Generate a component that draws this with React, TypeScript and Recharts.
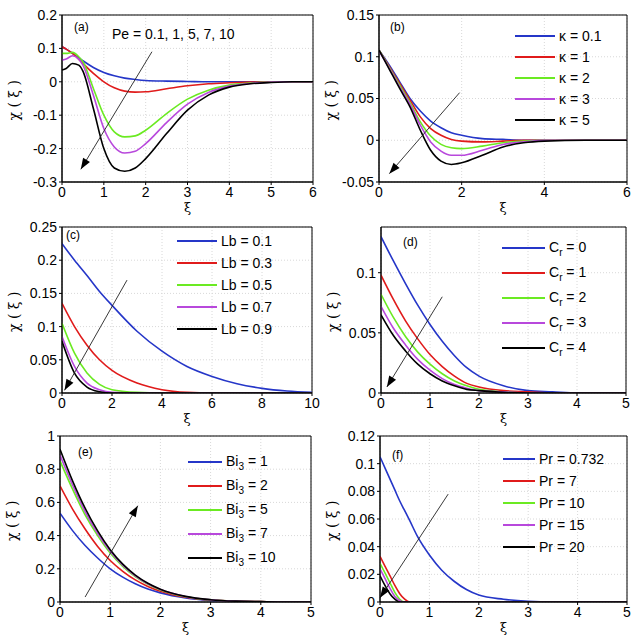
import React from 'react';
import { LineChart, Line, XAxis, YAxis, CartesianGrid, ReferenceLine, ReferenceArea } from 'recharts';

const COLORS = ['#2536c8', '#e01b1b', '#6bea22', '#b848dc', '#000000'];

const xsA = [0, 0.1, 0.25, 0.4, 0.5, 0.75, 1, 1.25, 1.5, 1.75, 2, 2.5, 3, 3.5, 4, 4.5, 5, 5.5, 6];
const aBlue = [0.105, 0.098, 0.085, 0.072, 0.063, 0.043, 0.028, 0.018, 0.011, 0.007, 0.004, 0.002, 0.001, 0, 0, 0, 0, 0, 0];
const aRed = [0.105, 0.098, 0.085, 0.068, 0.055, 0.025, 0, -0.018, -0.028, -0.031, -0.03, -0.021, -0.012, -0.006, -0.003, -0.001, 0, 0, 0];
const aGreen = [0.085, 0.085, 0.088, 0.075, 0.06, -0.02, -0.1, -0.15, -0.165, -0.162, -0.145, -0.095, -0.052, -0.025, -0.01, -0.004, -0.001, 0, 0];
const aMag = [0.065, 0.068, 0.078, 0.068, 0.05, -0.04, -0.14, -0.195, -0.213, -0.208, -0.185, -0.122, -0.067, -0.032, -0.013, -0.005, -0.001, 0, 0];
const aBlack = [0.035, 0.04, 0.055, 0.05, 0.032, -0.08, -0.2, -0.258, -0.268, -0.258, -0.23, -0.155, -0.085, -0.04, -0.016, -0.006, -0.002, 0, 0];

const xsB = [0, 0.25, 0.5, 0.75, 1, 1.25, 1.5, 1.75, 2, 2.5, 3, 3.5, 4, 5, 6];
const bBlue = [0.108, 0.09, 0.07, 0.05, 0.035, 0.023, 0.015, 0.009, 0.006, 0.002, 0.001, 0, 0, 0, 0];
const bRed = [0.108, 0.088, 0.068, 0.048, 0.028, 0.014, 0.006, 0.001, -0.001, -0.002, -0.001, 0, 0, 0, 0];
const bGreen = [0.108, 0.087, 0.066, 0.045, 0.022, 0.005, -0.005, -0.009, -0.01, -0.007, -0.003, -0.001, 0, 0, 0];
const bMag = [0.107, 0.086, 0.064, 0.043, 0.018, -0.002, -0.013, -0.018, -0.018, -0.012, -0.005, -0.002, 0, 0, 0];
const bBlack = [0.108, 0.085, 0.062, 0.04, 0.012, -0.012, -0.025, -0.029, -0.027, -0.018, -0.008, -0.003, -0.001, 0, 0];

const xsC = [0, 0.5, 1, 1.5, 2, 3, 4, 5, 6, 7, 8, 9, 10];
const cBlue = [0.225, 0.2, 0.177, 0.153, 0.132, 0.093, 0.063, 0.04, 0.025, 0.014, 0.007, 0.003, 0.001];
const cRed = [0.135, 0.1, 0.072, 0.05, 0.034, 0.015, 0.005, 0.001, 0, 0, 0, 0, 0];
const cGreen = [0.105, 0.06, 0.03, 0.013, 0.005, 0.001, 0, 0, 0, 0, 0, 0, 0];
const cMag = [0.085, 0.04, 0.015, 0.005, 0.001, 0, 0, 0, 0, 0, 0, 0, 0];
const cBlack = [0.078, 0.03, 0.009, 0.002, 0, 0, 0, 0, 0, 0, 0, 0, 0];

const xsD = [0, 0.25, 0.5, 0.75, 1, 1.25, 1.5, 1.75, 2, 2.5, 3, 3.5, 4, 4.5, 5];
const dBlue = [0.13, 0.11, 0.091, 0.073, 0.057, 0.043, 0.031, 0.021, 0.014, 0.006, 0.002, 0.001, 0, 0, 0];
const dRed = [0.098, 0.078, 0.06, 0.045, 0.032, 0.022, 0.014, 0.008, 0.005, 0.002, 0.001, 0, 0, 0, 0];
const dGreen = [0.082, 0.063, 0.047, 0.034, 0.024, 0.016, 0.01, 0.006, 0.003, 0.001, 0, 0, 0, 0, 0];
const dMag = [0.072, 0.054, 0.04, 0.028, 0.019, 0.012, 0.007, 0.004, 0.002, 0.001, 0, 0, 0, 0, 0];
const dBlack = [0.065, 0.048, 0.035, 0.024, 0.016, 0.01, 0.006, 0.003, 0.002, 0.0005, 0, 0, 0, 0, 0];

const xsE = [0, 0.25, 0.5, 0.75, 1, 1.25, 1.5, 1.75, 2, 2.5, 3, 3.5, 4, 4.5, 5];
const eBlue = [0.535, 0.43, 0.34, 0.265, 0.2, 0.15, 0.11, 0.078, 0.055, 0.025, 0.01, 0.004, 0.001, 0, 0];
const eRed = [0.7, 0.56, 0.44, 0.335, 0.25, 0.185, 0.133, 0.094, 0.065, 0.029, 0.012, 0.005, 0.002, 0, 0];
const eGreen = [0.85, 0.68, 0.525, 0.4, 0.295, 0.215, 0.153, 0.107, 0.073, 0.032, 0.013, 0.005, 0.002, 0, 0];
const eMag = [0.885, 0.705, 0.545, 0.413, 0.305, 0.222, 0.158, 0.11, 0.075, 0.033, 0.013, 0.005, 0.002, 0, 0];
const eBlack = [0.92, 0.73, 0.565, 0.428, 0.315, 0.228, 0.162, 0.113, 0.077, 0.034, 0.014, 0.005, 0.002, 0, 0];

const xsF = [0, 0.1, 0.2, 0.3, 0.4, 0.5, 0.6, 0.75, 1, 1.25, 1.5, 1.75, 2, 2.5, 3, 3.5, 4, 5];
const fBlue = [0.105, 0.097, 0.089, 0.081, 0.073, 0.066, 0.059, 0.048, 0.034, 0.023, 0.015, 0.009, 0.005, 0.002, 0.0005, 0, 0, 0];
const fRed = [0.033, 0.026, 0.019, 0.012, 0.006, 0.002, 0, 0, 0, 0, 0, 0, 0, 0, 0, 0, 0, 0];
const fGreen = [0.028, 0.021, 0.014, 0.007, 0.002, 0, 0, 0, 0, 0, 0, 0, 0, 0, 0, 0, 0, 0];
const fMag = [0.024, 0.017, 0.01, 0.004, 0.001, 0, 0, 0, 0, 0, 0, 0, 0, 0, 0, 0, 0, 0];
const fBlack = [0.019, 0.012, 0.006, 0.002, 0, 0, 0, 0, 0, 0, 0, 0, 0, 0, 0, 0, 0, 0];

const legB = [['κ = 0.1'], ['κ = 1'], ['κ = 2'], ['κ = 3'], ['κ = 5']];
const legC = [['Lb = 0.1'], ['Lb = 0.3'], ['Lb = 0.5'], ['Lb = 0.7'], ['Lb = 0.9']];
const legD = [['C', 'r', ' = 0'], ['C', 'r', ' = 1'], ['C', 'r', ' = 2'], ['C', 'r', ' = 3'], ['C', 'r', ' = 4']];
const legE = [['Bi', '3', ' = 1'], ['Bi', '3', ' = 2'], ['Bi', '3', ' = 5'], ['Bi', '3', ' = 7'], ['Bi', '3', ' = 10']];
const legF = [['Pr = 0.732'], ['Pr = 7'], ['Pr = 10'], ['Pr = 15'], ['Pr = 20']];

const FONT = '"Liberation Sans", Arial, sans-serif';

function rows(xs: number[], series: number[][]) {
  return xs.map((x, i) => {
    const r: any = { x };
    series.forEach((s, k) => (r['s' + k] = s[i]));
    return r;
  });
}

const arrowShape = (p: any) => {
  const { x1, y1, x2, y2 } = p;
  const ang = Math.atan2(y2 - y1, x2 - x1);
  const L = 11, W = 4;
  const bx = x2 - L * Math.cos(ang), by = y2 - L * Math.sin(ang);
  const px = -Math.sin(ang) * W, py = Math.cos(ang) * W;
  return (
    <g>
      <line x1={x1} y1={y1} x2={x2} y2={y2} stroke="#222" strokeWidth={0.9} />
      <polygon points={`${x2},${y2} ${bx + px},${by + py} ${bx - px},${by - py}`} fill="#000" />
    </g>
  );
};

type PanelProps = {
  box: [number, number, number, number];
  plot: [number, number, number, number];
  xs: number[];
  series: number[][];
  xDomain: [number, number];
  xTicks: number[];
  yDomain: [number, number];
  yTicks: number[];
  arrow: [number, number, number, number];
};

function Panel({ box, plot, xs, series, xDomain, xTicks, yDomain, yTicks, arrow }: PanelProps) {
  const [bl, bt, bw, bh] = box;
  const [pl, pt, pr, pb] = plot;
  const yW = 50, xH = 30;
  const margin = { left: pl - bl - yW, top: pt - bt, right: bl + bw - pr, bottom: bt + bh - pb - xH };
  const data = rows(xs, series);
  return (
    <div style={{ position: 'absolute', left: bl, top: bt }}>
      <LineChart width={bw} height={bh} data={data} margin={margin}>
        <CartesianGrid stroke="#d8d8d8" strokeDasharray="1 2" />
        <XAxis
          dataKey="x" type="number" domain={xDomain} ticks={xTicks} height={xH}
          tick={{ fill: '#000', fontSize: 14, fontFamily: FONT }} tickSize={3} tickLine={{ stroke: '#000' }}
          stroke="#000" allowDataOverflow
          label={{ value: 'ξ', position: 'insideBottom', offset: 0, fill: '#000', fontSize: 13, fontFamily: 'DejaVu Serif' }}
        />
        <YAxis
          type="number" domain={yDomain} ticks={yTicks} width={yW}
          tick={{ fill: '#000', fontSize: 14, fontFamily: FONT }} tickSize={3} tickLine={{ stroke: '#000' }}
          stroke="#000" allowDataOverflow
          label={{ value: 'χ ( ξ )', angle: -90, position: 'insideLeft', offset: 2, dy: 22, fill: '#000', fontSize: 14, fontFamily: 'DejaVu Serif' }}
        />
        <ReferenceArea x1={xDomain[0]} x2={xDomain[1]} y1={yDomain[0]} y2={yDomain[1]} fill="none" stroke="#000" strokeWidth={1} ifOverflow="visible" />
        {series.map((_, k) => (
          <Line key={k} dataKey={'s' + k} stroke={COLORS[k]} strokeWidth={1.6} dot={false} type="monotone" isAnimationActive={false} />
        ))}
        <ReferenceLine
          segment={[{ x: arrow[0], y: arrow[1] }, { x: arrow[2], y: arrow[3] }]}
          ifOverflow="visible" shape={arrowShape}
        />
      </LineChart>
    </div>
  );
}

function Legend({ left, top, items, gap, lineW }: { left: number; top: number; items: string[][]; gap: number; lineW: number }) {
  return (
    <div style={{ position: 'absolute', left, top, fontFamily: FONT, fontSize: 14, color: '#000' }}>
      {items.map((it, i) => (
        <div key={i} style={{ position: 'absolute', top: i * gap, left: 0, display: 'flex', alignItems: 'center', whiteSpace: 'nowrap', height: 16, marginTop: -8 }}>
          <span style={{ display: 'inline-block', width: lineW, height: 2, background: COLORS[i], marginRight: 4 }} />
          <span>
            {it[0]}
            {it.length > 1 && <sub style={{ fontSize: 10 }}>{it[1]}</sub>}
            {it.length > 2 && it[2]}
          </span>
        </div>
      ))}
    </div>
  );
}

const lbl = (x: number, y: number, t: string, fs = 12) => (
  <div style={{ position: 'absolute', left: x, top: y, fontFamily: FONT, fontSize: fs, color: '#000', whiteSpace: 'nowrap' }}>{t}</div>
);

export default function App() {
  return (
    <div style={{ position: 'absolute', left: 0, top: 0, width: 639, height: 640, background: '#fff', overflow: 'hidden' }}>
      <Panel box={[320, 418, 319, 222]} plot={[380, 436, 627, 602]} xs={xsF} series={[fBlue, fRed, fGreen, fMag, fBlack]}
        xDomain={[0, 5]} xTicks={[0, 1, 2, 3, 4, 5]} yDomain={[0, 0.12]} yTicks={[0, 0.02, 0.04, 0.06, 0.08, 0.1, 0.12]}
        arrow={[1.38, 0.078, 0.0, 0.003]} />
      <Panel box={[0, 418, 320, 222]} plot={[60, 436, 311, 602]} xs={xsE} series={[eBlue, eRed, eGreen, eMag, eBlack]}
        xDomain={[0, 5]} xTicks={[0, 1, 2, 3, 4, 5]} yDomain={[0, 1]} yTicks={[0, 0.2, 0.4, 0.6, 0.8, 1]}
        arrow={[0.5, 0.03, 1.55, 0.58]} />
      <Panel box={[320, 207, 319, 225]} plot={[381, 227, 626, 393]} xs={xsD} series={[dBlue, dRed, dGreen, dMag, dBlack]}
        xDomain={[0, 5]} xTicks={[0, 1, 2, 3, 4, 5]} yDomain={[0, 0.138]} yTicks={[0, 0.05, 0.1]}
        arrow={[1.25, 0.08, 0.12, 0.005]} />
      <Panel box={[0, 207, 320, 225]} plot={[62, 227, 312, 393]} xs={xsC} series={[cBlue, cRed, cGreen, cMag, cBlack]}
        xDomain={[0, 10]} xTicks={[0, 2, 4, 6, 8, 10]} yDomain={[0, 0.25]} yTicks={[0, 0.05, 0.1, 0.15, 0.2, 0.25]}
        arrow={[2.6, 0.17, 0.1, 0.004]} />
      <Panel box={[320, 0, 319, 216]} plot={[379, 15, 627, 182]} xs={xsB} series={[bBlue, bRed, bGreen, bMag, bBlack]}
        xDomain={[0, 6]} xTicks={[0, 2, 4, 6]} yDomain={[-0.05, 0.15]} yTicks={[-0.05, 0, 0.05, 0.1, 0.15]}
        arrow={[1.95, 0.057, 0.25, -0.04]} />
      <Panel box={[0, 0, 320, 216]} plot={[62, 15, 313, 182]} xs={xsA} series={[aBlue, aRed, aGreen, aMag, aBlack]}
        xDomain={[0, 6]} xTicks={[0, 1, 2, 3, 4, 5, 6]} yDomain={[-0.3, 0.2]} yTicks={[-0.3, -0.2, -0.1, 0, 0.1, 0.2]}
        arrow={[2.15, 0.09, 0.45, -0.262]} />

      {lbl(74, 20, '(a)')}
      {lbl(112, 26, 'Pe = 0.1, 1, 5, 7, 10', 14)}
      {lbl(390, 20, '(b)')}
      {lbl(66, 228, '(c)')}
      {lbl(403, 235, '(d)')}
      {lbl(78, 445, '(e)')}
      {lbl(392, 448, '(f)')}

      <Legend left={515} top={36} items={legB} gap={21} lineW={40} />
      <Legend left={177} top={241} items={legC} gap={22} lineW={40} />
      <Legend left={502} top={248} items={legD} gap={25} lineW={43} />
      <Legend left={188} top={462} items={legE} gap={24} lineW={34} />
      <Legend left={503} top={459} items={legF} gap={22} lineW={32} />
    </div>
  );
}
